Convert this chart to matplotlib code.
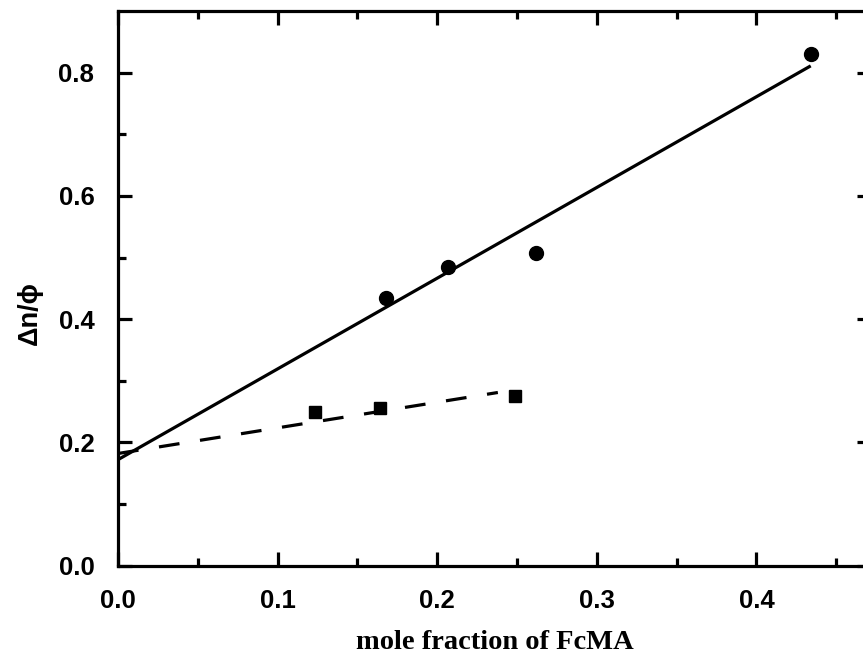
import numpy as np
import matplotlib.pyplot as plt

# measured points
x_circ = [0.168, 0.207, 0.262, 0.434]
y_circ = [0.435, 0.484, 0.508, 0.831]
x_sq = [0.1235, 0.164, 0.249]
y_sq = [0.249, 0.256, 0.275]

# linear fits (endpoints)
fit_solid_x = [0.0, 0.434]
fit_solid_y = [0.172, 0.811]
fit_dash_x = [0.0, 0.238]
fit_dash_y = [0.182, 0.281]

fig = plt.figure(figsize=(8.63, 6.63), dpi=100)
ax = fig.add_axes([0.1367, 0.1468, 0.873, 0.8366])

ax.plot(fit_solid_x, fit_solid_y, color='black', lw=2.3, solid_capstyle='butt')
ax.plot(fit_dash_x, fit_dash_y, color='black', lw=2.3, dashes=(6.5, 6.5))
ax.plot(x_circ, y_circ, 'o', color='black', ms=10)
ax.plot(x_sq, y_sq, 's', color='black', ms=8.5)

ax.set_xlim(0, 0.472)
ax.set_ylim(0, 0.9)
ax.set_xticks([0.0, 0.1, 0.2, 0.3, 0.4])
ax.set_xticks(np.arange(0.05, 0.47, 0.1), minor=True)
ax.set_yticks([0.0, 0.2, 0.4, 0.6, 0.8])
ax.set_yticks([0.1, 0.3, 0.5, 0.7], minor=True)
ax.set_xticklabels(['0.0', '0.1', '0.2', '0.3', '0.4'])
ax.set_yticklabels(['0.0', '0.2', '0.4', '0.6', '0.8'])

for s in ax.spines.values():
    s.set_linewidth(2.3)
ax.tick_params(which='both', direction='in', top=True, right=True, width=2.3)
ax.tick_params(which='major', length=10, pad=17)
ax.tick_params(which='minor', length=6)
for lab in ax.get_xticklabels() + ax.get_yticklabels():
    lab.set_fontfamily('Liberation Sans')
    lab.set_fontweight('bold')
    lab.set_fontsize(18.5)

ax.set_xlabel('mole fraction of FcMA', fontfamily='Liberation Serif',
              fontweight='bold', fontsize=20.5, labelpad=12)
ax.set_ylabel('Δn/ϕ', fontfamily=['Liberation Sans', 'DejaVu Sans'],
              fontweight='bold', fontsize=19.5)
ax.yaxis.set_label_coords(-0.1, 0.455)

fig.savefig('out.png', dpi=100)
